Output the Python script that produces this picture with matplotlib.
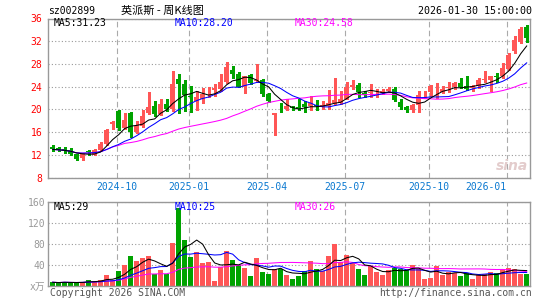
import matplotlib
matplotlib.use("Agg")
import matplotlib.pyplot as plt
import numpy as np
import pandas as pd

# 英派斯 (sz002899) 周K线, 数据按周排列
opens = [13.4, 13.2, 13.06, 12.8, 12.1, 11.4, 12.65, 12.0, 12.8, 13.9,
         17.5, 19.7, 16.8, 19.4, 16.0, 17.1, 19.35, 20.6, 19.2, 20.9,
         20.1, 25.3, 24.5, 22.4, 21.5, 21.9, 22.8, 23.4, 23.6, 24.9,
         27.0, 26.2, 24.0, 26.0, 25.0, 25.1, 22.7, 19.0, 20.1, 20.05,
         20.35, 20.5, 20.9, 20.6, 20.8, 20.35, 20.6, 21.05, 21.2, 21.9,
         23.9, 24.35, 22.9, 22.8, 22.85, 22.9, 23.2, 23.6, 21.35, 20.4,
         19.8, 20.8, 22.65, 23.0, 22.8, 23.0, 23.8, 23.9, 24.65, 24.06,
         23.8, 24.06, 25.25, 25.2, 25.85, 25.8, 27.1, 30.2, 31.8, 34.5]
highs = [13.65, 13.4, 13.4, 13.2, 12.2, 12.3, 12.9, 13.05, 14.2, 16.5,
         17.9, 19.8, 19.4, 19.5, 18.0, 19.8, 23.1, 21.5, 21.8, 21.9,
         26.7, 26.3, 25.2, 24.2, 23.3, 23.8, 23.9, 24.5, 26.2, 28.3,
         27.6, 26.6, 25.9, 26.2, 27.9, 25.4, 22.9, 19.4, 21.2, 21.8,
         20.6, 21.9, 21.5, 22.4, 21.6, 21.5, 23.4, 25.5, 23.3, 24.8,
         25.2, 24.6, 23.2, 24.5, 23.6, 23.6, 23.9, 23.9, 21.8, 20.6,
         21.0, 23.2, 23.2, 24.35, 24.6, 24.1, 24.8, 24.9, 25.5, 25.8,
         24.35, 25.5, 26.7, 25.9, 26.4, 28.2, 29.9, 32.9, 34.5, 34.8]
lows = [12.7, 12.6, 12.4, 11.9, 11.1, 11.0, 12.0, 11.9, 12.7, 13.8,
        16.5, 16.4, 16.5, 15.2, 15.8, 16.9, 19.1, 18.9, 19.0, 19.7,
        19.7, 19.4, 19.7, 19.5, 19.9, 21.1, 22.1, 22.4, 23.3, 24.7,
        25.5, 23.9, 22.9, 24.4, 24.9, 22.4, 21.3, 15.4, 19.6, 19.8,
        19.9, 19.8, 19.5, 19.8, 19.9, 20.0, 20.0, 20.9, 20.9, 21.8,
        23.6, 22.2, 22.2, 22.2, 22.2, 22.7, 23.0, 21.5, 20.1, 19.6,
        19.5, 19.5, 22.0, 22.3, 22.0, 22.8, 23.0, 23.5, 23.7, 23.35,
        23.2, 23.8, 24.9, 23.2, 24.9, 25.5, 26.9, 30.0, 31.7, 31.8]
closes = [12.95, 12.8, 12.6, 12.1, 11.2, 12.1, 12.5, 12.8, 13.9, 16.4,
          17.8, 16.8, 18.2, 16.0, 17.1, 18.9, 20.4, 19.2, 21.0, 20.1,
          24.4, 24.5, 22.6, 22.1, 22.2, 22.7, 22.95, 23.7, 24.9, 27.4,
          26.2, 24.0, 25.8, 24.6, 25.2, 22.7, 21.5, 19.3, 20.0, 20.6,
          20.2, 20.1, 20.35, 21.05, 20.65, 20.8, 21.2, 21.7, 21.9, 23.9,
          24.35, 23.0, 22.5, 23.0, 22.95, 23.2, 23.6, 21.6, 20.5, 19.9,
          20.7, 22.6, 22.75, 24.06, 22.9, 23.6, 23.9, 24.65, 23.9, 23.6,
          24.06, 25.1, 25.35, 25.8, 25.75, 27.3, 29.5, 32.2, 34.2, 32.6]
volumes = [7, 6, 8, 6, 6, 8, 11, 10, 11, 21,
           11, 28, 40, 57, 47, 53, 57, 23, 30, 23,
           82, 147, 87, 55, 64, 43, 46, 10, 36, 66,
           49, 39, 35, 19, 53, 27, 22, 33, 33, 21,
           14, 19, 29, 48, 32, 29, 56, 79, 45, 58,
           43, 32, 21, 37, 26, 21, 30, 35, 32, 30,
           40, 32, 14, 16, 38, 21, 26, 24, 19, 24,
           14, 21, 22, 27, 25, 32, 35, 33, 23, 23]

date_pos = [11, 23, 36, 49, 63, 76]
date_labels = ["2024-10", "2025-01", "2025-04", "2025-07", "2025-10", "2026-01"]
price_ticks = [8, 12, 16, 20, 24, 28, 32, 36]
vol_ticks = [0, 40, 80, 120, 160]
vol_ticklabels = ["x万", "40", "80", "120", "160"]

RED = "#ff5656"
GREEN = "#00a300"
FRAME = "#999999"
MONO = "DejaVu Sans Mono"
W, H = 545, 300

fig = plt.figure(figsize=(W / 100, H / 100), dpi=100)


def box(l, t, r, b):
    return [l / W, 1 - b / H, (r - l) / W, (b - t) / H]


def ftext(x, y, s, **kw):
    kw.setdefault("family", MONO)
    kw.setdefault("fontsize", 7)
    fig.text(x / W, 1 - y / H, s, va="center", **kw)


ax = fig.add_axes(box(48, 18.5, 529.5, 177.5))
axv = fig.add_axes(box(48, 201.5, 529.5, 286))

x = np.arange(len(closes))
o = np.array(opens)
c = np.array(closes)
up = c >= o
colors = np.where(up, RED, GREEN)

# K线
ax.vlines(x, lows, highs, colors=colors, lw=0.8, antialiased=False, zorder=2)
ax.bar(x, np.maximum(np.abs(c - o), 0.1), bottom=np.minimum(o, c),
       width=0.8, color=colors, linewidth=0, antialiased=False, zorder=3)

cs = pd.Series(closes)
for n, col in [(30, "#ff00ff"), (10, "#0000ff"), (5, "black")]:
    ax.plot(x, cs.rolling(n, min_periods=1).mean(), color=col, lw=0.75, zorder=4)

# 成交量
axv.bar(x, volumes, width=0.8, color=colors, linewidth=0, antialiased=False,
        zorder=2)
vs = pd.Series(volumes)
for n, col in [(30, "#ff00ff"), (10, "#0000ff"), (5, "black")]:
    axv.plot(x, vs.rolling(n, min_periods=1).mean(), color=col, lw=0.75, zorder=3)

for a in (ax, axv):
    a.set_xlim(-0.78, 79.47)
    a.set_xticks([p - 0.35 for p in date_pos])
    a.xaxis.grid(True, linestyle=(0, (5, 3)), color="#aaaaaa", lw=0.8)
    a.yaxis.grid(True, linestyle=(0, (1, 2)), color="#999999", lw=0.8)
    a.set_axisbelow(True)
    a.tick_params(length=0)
    for s in a.spines.values():
        s.set_color(FRAME)
        s.set_linewidth(1.0)

ax.set_ylim(8, 36)
ax.set_yticks(price_ticks)
ax.set_yticklabels([str(t) for t in price_ticks], color="red",
                   family=MONO, fontsize=7)
ax.tick_params(axis="y", pad=4)
ax.set_xticklabels(date_labels, color="#0a78d0", family=MONO, fontsize=7)
ax.tick_params(axis="x", pad=3)
ax.get_xticklabels()[-1].set_ha("right")

axv.set_ylim(0, 160)
axv.set_yticks(vol_ticks)
axv.set_yticklabels(vol_ticklabels, color="#999999",
                    family=["DejaVu Sans Mono", "Noto Sans CJK SC"], fontsize=7)
axv.tick_params(axis="y", pad=2)
axv.set_xticklabels([])

# 文字
ftext(48, 11, "sz002899")
ftext(121, 11, "英派斯 - 周K线图", family=["Noto Sans CJK SC", "DejaVu Sans"],
      fontsize=8)
ftext(532, 11, "2026-01-30 15:00:00", ha="right", fontsize=7.2)
ftext(54, 22.5, "MA5:31.23", color="black")
ftext(175, 22.5, "MA10:28.20", color="#0000ff")
ftext(295, 22.5, "MA30:24.58", color="#ff00ff")
ftext(54, 206.5, "MA5:29", color="black")
ftext(175, 206.5, "MA10:25", color="#0000ff")
ftext(295, 206.5, "MA30:26", color="#ff00ff")
ftext(50, 293, "Copyright 2026 SINA.COM", color="#555555")
ftext(532, 293, "http://finance.sina.com.cn", ha="right", color="#555555")
ftext(512, 166, "sina", ha="center", color="#e3cccc", fontsize=10,
      family="DejaVu Sans", style="italic", weight="bold")

fig.savefig("out.png", dpi=100)
